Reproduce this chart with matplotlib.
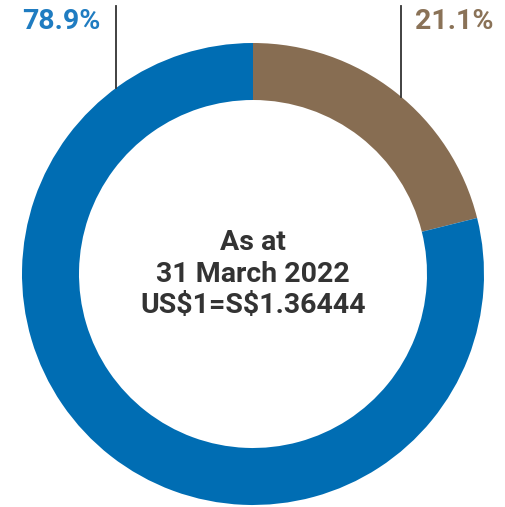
import numpy as np
import matplotlib.pyplot as plt

# Share of total, clockwise from 12 o'clock
labels = ['21.1%', '78.9%']
shares = [21.1, 78.9]
colors = ['#876d52', '#006db3']
label_colors = ['#8a7257', '#1f7cc1']
center_lines = ['As at', '31 March 2022', r'US\$1=S\$1.36444']

W, H = 506, 507
fig = plt.figure(figsize=(W / 100, H / 100), dpi=100)
ax = fig.add_axes([0, 0, 1, 1])

cx, cy = 253, H - 274
r_out, ring = 231, 57

ax.pie(shares, colors=colors, startangle=90, counterclock=False,
       center=(cx, cy), radius=r_out, frame=True,
       wedgeprops=dict(width=ring, linewidth=0))
ax.set_xlim(0, W)
ax.set_ylim(0, H)
ax.set_aspect('equal')
ax.axis('off')

# leader lines from the top edge down to the outer rim
for lx in (401, 116):
    ly = cy + np.sqrt(r_out ** 2 - (lx - cx) ** 2)
    ax.plot([lx, lx], [H - 6, ly], color='#333333', lw=1.3)

ax.text(494, H - 21, labels[0], color=label_colors[0], fontsize=20.5,
        fontweight='bold', family='Roboto', ha='right', va='center')
ax.text(22, H - 21, labels[1], color=label_colors[1], fontsize=20.5,
        fontweight='bold', family='Roboto', ha='left', va='center')

for i, line in enumerate(center_lines):
    ax.text(cx, H - (243 + 31 * i), line, color='#333333', fontsize=20.5,
            fontweight='bold', family='Roboto', ha='center', va='center')

fig.savefig('out.png', dpi=100)
